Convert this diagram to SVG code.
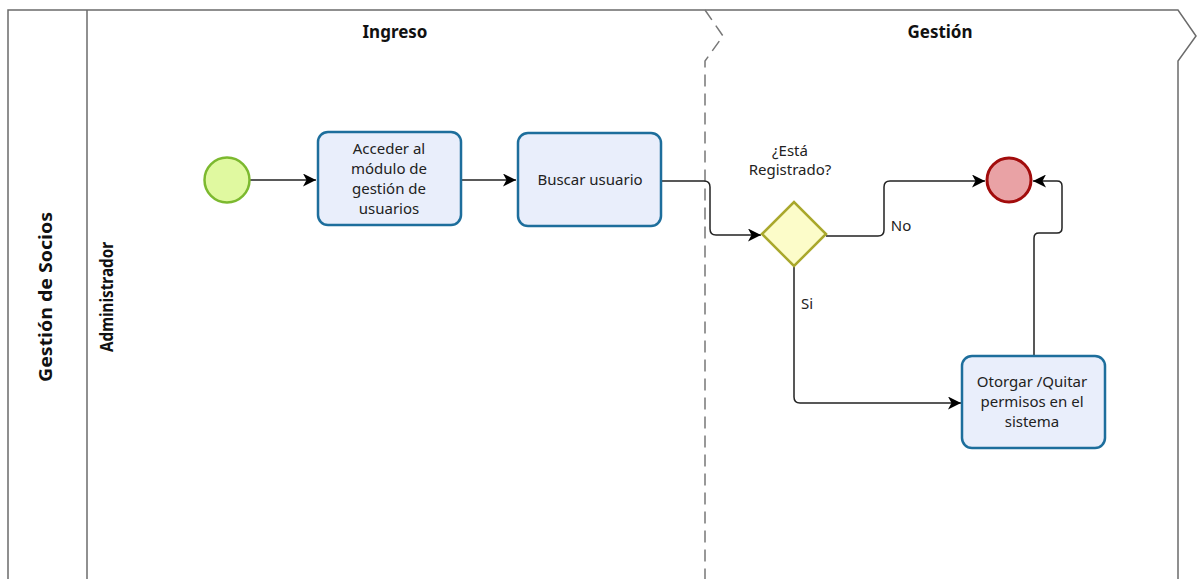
<svg xmlns="http://www.w3.org/2000/svg" width="1198" height="579" viewBox="0 0 1198 579">
<style>
.frame{fill:none;stroke:#6b6b6b;stroke-width:1.5}
.task{fill:#e9eefb;stroke:#1d6e9c;stroke-width:2.5}
.lbl{font-family:"Noto Sans","Open Sans",sans-serif;font-size:15px;fill:#222;text-anchor:middle}
.hdr{font-family:"Noto Sans","Open Sans",sans-serif;font-size:17px;font-weight:bold;fill:#111;text-anchor:middle}
.conn{fill:none;stroke:#222;stroke-width:1.5}
</style>
<defs>
<marker id="arr" viewBox="0 0 13 13" refX="13" refY="6.5" markerWidth="13" markerHeight="13" markerUnits="userSpaceOnUse" orient="auto">
<path d="M0,0 L13,6.5 L0,13 L3.5,6.5 Z" fill="#000"/>
</marker>
</defs>
<rect width="1198" height="579" fill="#fff"/>
<g id="pool">
<path class="frame" d="M8,579 V10 H1178 L1196,36 L1178,61 V579" stroke="#555"/>
<line x1="87" y1="10" x2="87" y2="579" class="frame" stroke="#777"/>
<text class="hdr" transform="translate(52,297) rotate(-90)" font-size="19" textLength="170" lengthAdjust="spacingAndGlyphs">Gestión de Socios</text>
<text class="hdr" transform="translate(113,297) rotate(-90)" font-size="13" textLength="110" lengthAdjust="spacingAndGlyphs">Administrador</text>
</g>
<g id="lane-ingreso">
<text class="hdr" x="395" y="38">Ingreso</text>
</g>
<g id="lane-gestion">
<path d="M705,10 L723,36 L705,61 V579" fill="none" stroke="#777" stroke-width="1.5" stroke-dasharray="12 7"/>
<text class="hdr" x="940" y="38">Gestión</text>
</g>
<g id="connectors">
<path class="conn" d="M250,180 H316" marker-end="url(#arr)"/>
<path class="conn" d="M461,180 H516" marker-end="url(#arr)"/>
<path class="conn" d="M662,181 H704 Q710,181 710,187 V229 Q710,235 716,235 H761" marker-end="url(#arr)"/>
<path class="conn" d="M826,236 H878 Q884,236 884,230 V187 Q884,181 890,181 H985" marker-end="url(#arr)"/>
<path class="conn" d="M794,266 V397 Q794,403 800,403 H961" marker-end="url(#arr)"/>
<path class="conn" d="M1034,355 V238 Q1034,233 1039,233 H1057 Q1062,233 1062,228 V186 Q1062,181 1057,181 H1033" marker-end="url(#arr)"/>
<text class="lbl" x="901" y="231">No</text>
<text class="lbl" x="807" y="309">Si</text>
</g>
<g id="start">
<circle cx="227" cy="180" r="22.5" fill="#e0f9a0" stroke="#7cb92f" stroke-width="2.5"/>
</g>
<g id="task-acceder">
<rect class="task" x="318" y="132" width="143" height="93" rx="10"/>
<text class="lbl" x="389" y="154">Acceder al</text>
<text class="lbl" x="389" y="174">módulo de</text>
<text class="lbl" x="389" y="194">gestión de</text>
<text class="lbl" x="389" y="214">usuarios</text>
</g>
<g id="task-buscar">
<rect class="task" x="518" y="133" width="143" height="93" rx="10"/>
<text class="lbl" x="590" y="185">Buscar usuario</text>
</g>
<g id="gateway">
<path d="M762,234 L794,202 L826,234 L794,266 Z" fill="#fcfcc9" stroke="#a9a82c" stroke-width="2.5"/>
<text class="lbl" x="790" y="156">¿Está</text>
<text class="lbl" x="790" y="175">Registrado?</text>
</g>
<g id="end">
<circle cx="1009" cy="180" r="22" fill="#e9a2a5" stroke="#a20c0c" stroke-width="3"/>
</g>
<g id="task-otorgar">
<rect class="task" x="962" y="356" width="143" height="92" rx="10"/>
<text class="lbl" x="1032" y="387">Otorgar /Quitar</text>
<text class="lbl" x="1032" y="407">permisos en el</text>
<text class="lbl" x="1032" y="427">sistema</text>
</g>
</svg>
